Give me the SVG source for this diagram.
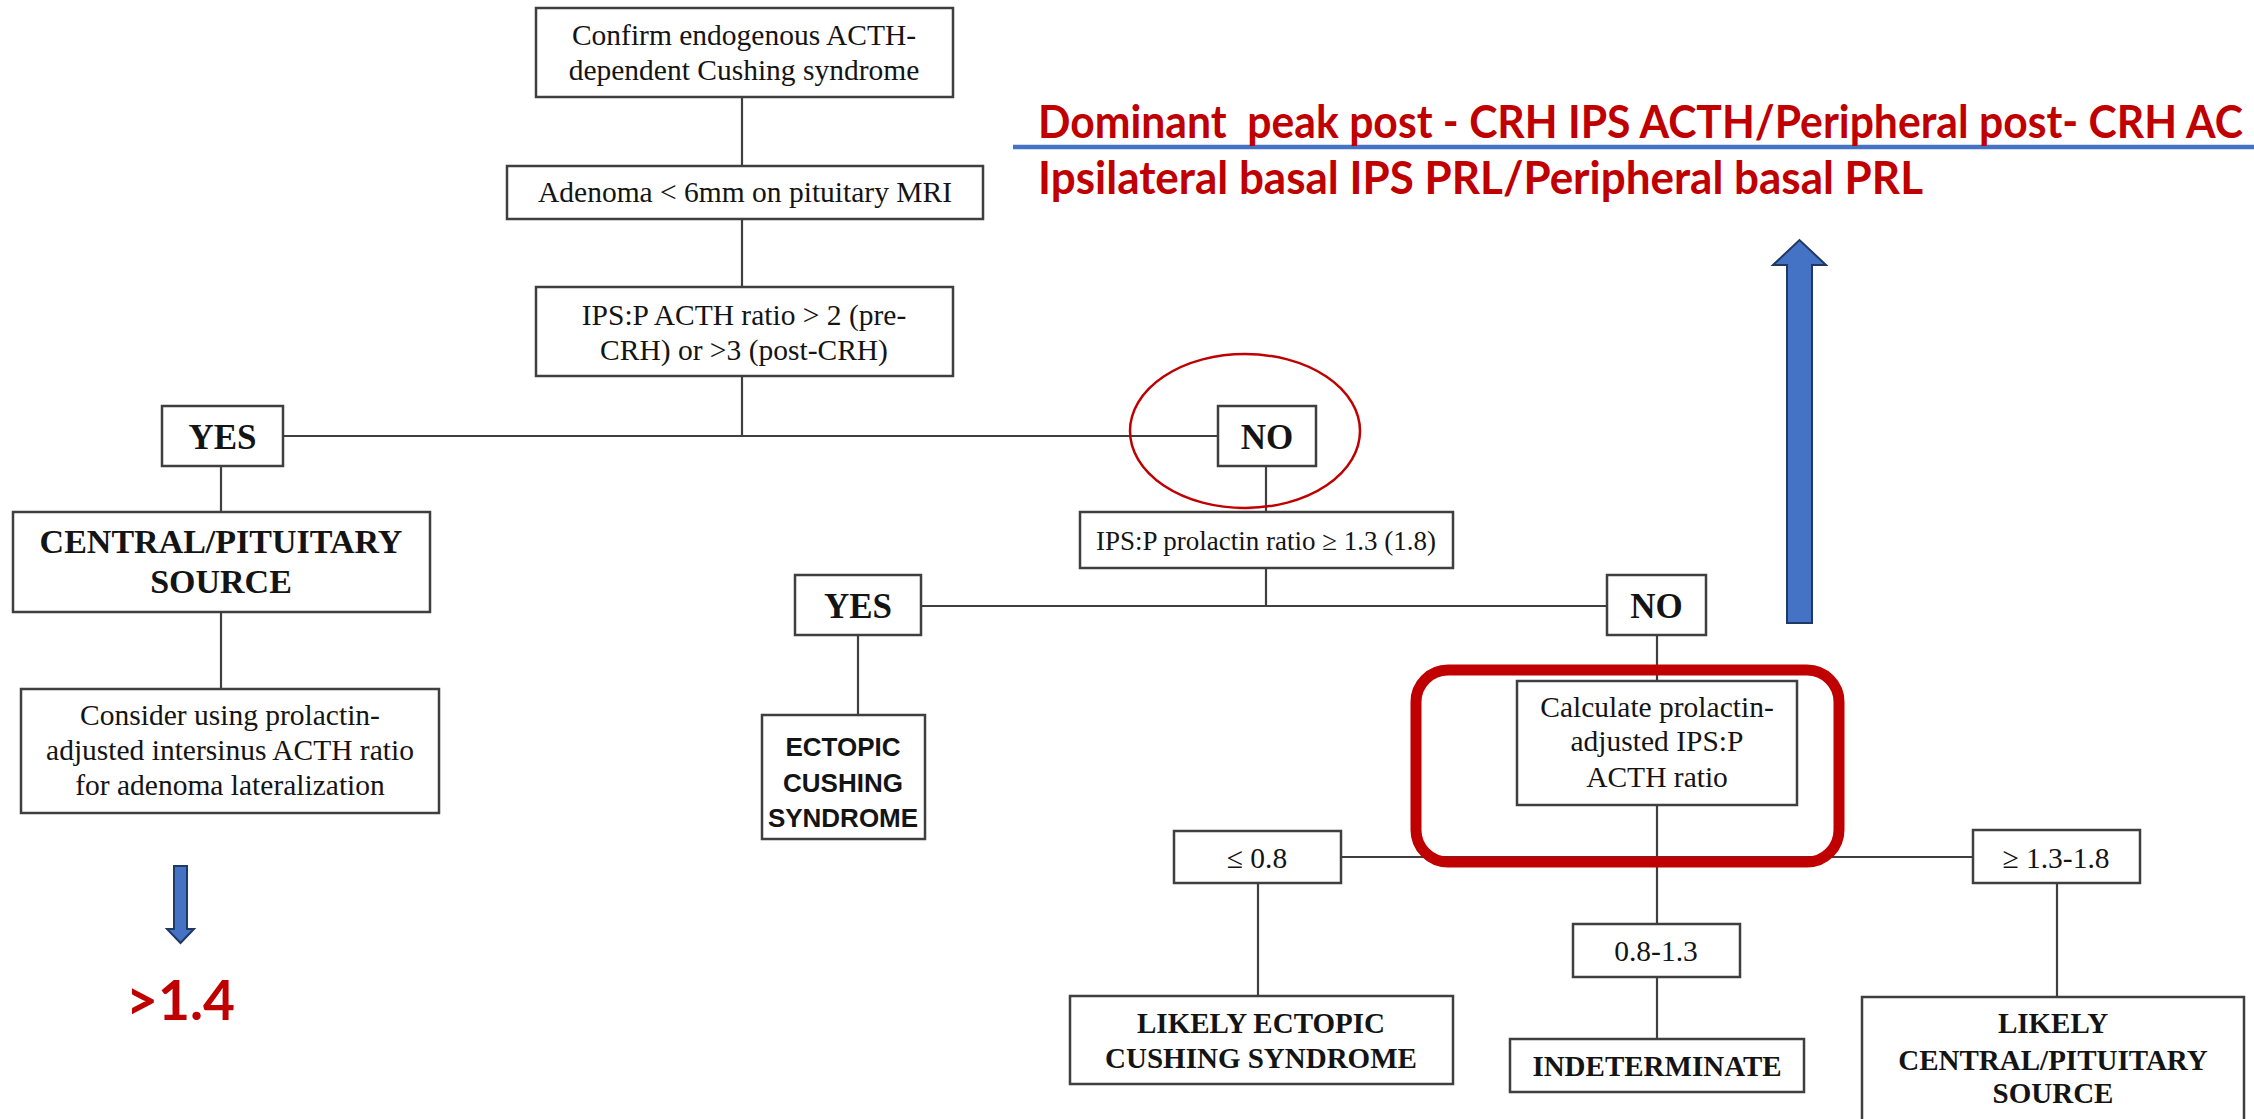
<svg xmlns="http://www.w3.org/2000/svg" width="2254" height="1119" viewBox="0 0 2254 1119">
<style>
.box{fill:#fff;stroke:#3f3f3f;stroke-width:2.5}
.ln{stroke:#3f3f3f;stroke-width:2.2;fill:none}
.t{font-family:"Liberation Serif","Times New Roman",serif;font-size:29.5px;fill:#141414;text-anchor:middle}
.b{font-weight:bold;font-size:34px}
.yn{font-weight:bold;font-size:35px}
.bs{font-weight:bold;font-size:29px}
.sans{font-family:"Liberation Sans",Arial,sans-serif;font-weight:bold;font-size:26px;fill:#141414;text-anchor:middle}
.red{font-family:Lato,"Liberation Sans",sans-serif;font-weight:bold;fill:#C00000}
.arrow{fill:#4472C4;stroke:#1F3864;stroke-width:2}
</style>
<rect width="2254" height="1119" fill="#fff"/>
<g id="connectors">
<line class="ln" x1="742" y1="97" x2="742" y2="166"/>
<line class="ln" x1="742" y1="219" x2="742" y2="287"/>
<line class="ln" x1="742" y1="376" x2="742" y2="436"/>
<line class="ln" x1="283" y1="436" x2="1218" y2="436"/>
<line class="ln" x1="221" y1="466" x2="221" y2="512"/>
<line class="ln" x1="221" y1="612" x2="221" y2="689"/>
<line class="ln" x1="1266" y1="466" x2="1266" y2="512"/>
<line class="ln" x1="1266" y1="568" x2="1266" y2="606"/>
<line class="ln" x1="921" y1="606" x2="1607" y2="606"/>
<line class="ln" x1="858" y1="635" x2="858" y2="716"/>
<line class="ln" x1="1657" y1="635" x2="1657" y2="681"/>
<line class="ln" x1="1657" y1="805" x2="1657" y2="924"/>
<line class="ln" x1="1341" y1="857" x2="1973" y2="857"/>
<line class="ln" x1="1258" y1="883" x2="1258" y2="996"/>
<line class="ln" x1="2057" y1="883" x2="2057" y2="997"/>
<line class="ln" x1="1657" y1="977" x2="1657" y2="1039"/>
</g>
<g id="n-confirm"><rect class="box" x="536" y="8" width="417" height="89"/>
<text class="t" x="744" y="45">Confirm endogenous ACTH-</text><text class="t" x="744" y="80">dependent Cushing syndrome</text></g>
<g id="n-adenoma"><rect class="box" x="507" y="166" width="476" height="53"/>
<text class="t" x="745" y="202">Adenoma &lt; 6mm on pituitary MRI</text></g>
<g id="n-ipsp"><rect class="box" x="536" y="287" width="417" height="89"/>
<text class="t" x="744" y="325">IPS:P ACTH ratio &gt; 2 (pre-</text><text class="t" x="744" y="360">CRH) or &gt;3 (post-CRH)</text></g>
<g id="n-yes1"><rect class="box" x="162" y="406" width="121" height="60"/>
<text class="t yn" x="222.5" y="449">YES</text></g>
<g id="n-no1"><rect class="box" x="1218" y="406" width="98" height="60"/>
<text class="t yn" x="1267" y="449">NO</text></g>
<g id="n-central"><rect class="box" x="13" y="512" width="417" height="100"/>
<text class="t b" x="221" y="553">CENTRAL/PITUITARY</text><text class="t b" x="221" y="593">SOURCE</text></g>
<g id="n-consider"><rect class="box" x="21" y="689" width="418" height="124"/>
<text class="t" x="230" y="725">Consider using prolactin-</text><text class="t" x="230" y="760">adjusted intersinus ACTH ratio</text><text class="t" x="230" y="795">for adenoma lateralization</text></g>
<g id="n-prolactin"><rect class="box" x="1080" y="512" width="373" height="56"/>
<text class="t" x="1266" y="550" style="font-size:27px">IPS:P prolactin ratio ≥ 1.3 (1.8)</text></g>
<g id="n-yes2"><rect class="box" x="795" y="575" width="126" height="60"/>
<text class="t yn" x="858" y="618">YES</text></g>
<g id="n-no2"><rect class="box" x="1607" y="575" width="99" height="60"/>
<text class="t yn" x="1656.5" y="618">NO</text></g>
<g id="n-ectopic"><rect class="box" x="762" y="715" width="163" height="124"/>
<text class="sans" x="843" y="756">ECTOPIC</text><text class="sans" x="843" y="792">CUSHING</text><text class="sans" x="843" y="827">SYNDROME</text></g>
<g id="n-calc"><rect class="box" x="1517" y="681" width="280" height="124"/>
<text class="t" x="1657" y="717">Calculate prolactin-</text><text class="t" x="1657" y="751">adjusted IPS:P</text><text class="t" x="1657" y="787">ACTH ratio</text></g>
<g id="n-le08"><rect class="box" x="1174" y="831" width="167" height="52"/>
<text class="t" x="1257" y="868">≤ 0.8</text></g>
<g id="n-mid"><rect class="box" x="1573" y="924" width="167" height="53"/>
<text class="t" x="1656" y="961">0.8-1.3</text></g>
<g id="n-ge13"><rect class="box" x="1973" y="830" width="167" height="53"/>
<text class="t" x="2056" y="868">≥ 1.3-1.8</text></g>
<g id="n-likely-ectopic"><rect class="box" x="1070" y="996" width="383" height="88"/>
<text class="t bs" x="1261" y="1033">LIKELY ECTOPIC</text><text class="t bs" x="1261" y="1068">CUSHING SYNDROME</text></g>
<g id="n-indet"><rect class="box" x="1510" y="1039" width="294" height="53"/>
<text class="t bs" x="1657" y="1076">INDETERMINATE</text></g>
<g id="n-likely-central"><rect class="box" x="1862" y="997" width="382" height="140"/>
<text class="t bs" x="2053" y="1033">LIKELY</text><text class="t bs" x="2053" y="1070">CENTRAL/PITUITARY</text><text class="t bs" x="2053" y="1103">SOURCE</text></g>
<g id="annotations">
<ellipse cx="1245" cy="431" rx="115" ry="77" fill="none" stroke="#C00000" stroke-width="2.5"/>
<rect x="1416" y="670" width="423" height="192" rx="32" fill="none" stroke="#C00000" stroke-width="11"/>
<line x1="1013" y1="147" x2="2254" y2="147" stroke="#4472C4" stroke-width="4.5"/>
<path class="arrow" d="M1787,623 L1787,265 L1773,265 L1799.5,240 L1826,265 L1812,265 L1812,623 Z"/>
<path class="arrow" d="M174,866 L187,866 L187,929 L194,929 L180.5,943 L167,929 L174,929 Z"/>
<text class="red" x="1038" y="138" font-size="42.5" textLength="1205" lengthAdjust="spacingAndGlyphs" transform="matrix(1,0,0,1.08,0,-11.04)" xml:space="preserve">Dominant  peak post - CRH IPS ACTH/Peripheral post- CRH AC</text>
<text class="red" x="1038" y="194" font-size="46" textLength="885" lengthAdjust="spacingAndGlyphs">Ipsilateral basal IPS PRL/Peripheral basal PRL</text>
<text class="red" x="126" y="1020" font-size="56" textLength="109" lengthAdjust="spacingAndGlyphs">&gt;1.4</text>
</g>
</svg>
